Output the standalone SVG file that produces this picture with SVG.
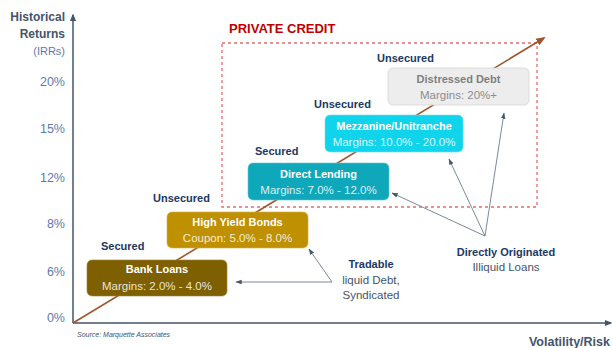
<svg xmlns="http://www.w3.org/2000/svg" width="613" height="348" viewBox="0 0 613 348">
  <style>
    text { font-family: "Liberation Sans", Arial, sans-serif; }
    .axis { stroke: #44546A; stroke-width: 1.5; fill: none; }
    .tick { font-size: 12.5px; fill: #5B7BAE; text-anchor: end; }
    .ttl { font-size: 12px; font-weight: bold; fill: #44546A; text-anchor: end; }
    .tag { font-size: 11px; font-weight: bold; fill: #203864; }
    .box-t { font-size: 11px; font-weight: bold; fill: #FFFFFF; text-anchor: middle; }
    .box-s { font-size: 11.5px; fill: #FFFFFF; fill-opacity: 0.85; text-anchor: middle; }
    .note-b { font-size: 11px; font-weight: bold; fill: #203864; text-anchor: middle; }
    .note { font-size: 11.5px; fill: #44546A; text-anchor: middle; }
    .ptr { stroke: #6B7A93; stroke-width: 0.9; fill: none; marker-end: url(#ptrHead); }
    .trend { stroke: #A0562A; stroke-width: 1.6; fill: none; marker-end: url(#trendHead); }
  </style>
  <defs>
    <marker id="axisHead" viewBox="0 0 10 10" refX="8" refY="5" markerWidth="5" markerHeight="5" orient="auto">
      <path d="M0,1 L10,5 L0,9 Z" fill="#44546A"/>
    </marker>
    <marker id="trendHead" viewBox="0 0 10 10" refX="8" refY="5" markerWidth="6" markerHeight="6" orient="auto">
      <path d="M0,1 L10,5 L0,9 Z" fill="#A0562A"/>
    </marker>
    <marker id="ptrHead" viewBox="0 0 10 10" refX="9" refY="5" markerWidth="7" markerHeight="7" orient="auto">
      <path d="M0,1.5 L10,5 L0,8.5 Z" fill="#44546A"/>
    </marker>
  </defs>

  <rect width="613" height="348" fill="#FFFFFF"/>

  <!-- axes -->
  <g id="axes">
    <line class="axis" x1="73" y1="323" x2="73" y2="15" marker-end="url(#axisHead)"/>
    <line class="axis" x1="73" y1="323" x2="611" y2="323" marker-end="url(#axisHead)"/>
    <text class="ttl" x="65" y="21">Historical</text>
    <text class="ttl" x="65" y="38">Returns</text>
    <text class="tick" x="65" y="55" style="font-size:11px">(IRRs)</text>
    <text class="tick" x="65" y="86">20%</text>
    <text class="tick" x="65" y="133">15%</text>
    <text class="tick" x="65" y="182">12%</text>
    <text class="tick" x="65" y="228">8%</text>
    <text class="tick" x="65" y="276">6%</text>
    <text class="tick" x="65" y="322">0%</text>
    <text x="610" y="346" text-anchor="end" style="font-size:12.5px;font-weight:bold;fill:#44546A">Volatility/Risk</text>
    <text x="77" y="337" style="font-size:7px;font-style:italic;fill:#44546A">Source: Marquette Associates</text>
  </g>

  <!-- private credit region -->
  <g id="private-credit">
    <rect x="222" y="43" width="315" height="164" fill="none" stroke="#E46C6C" stroke-width="1.3" stroke-dasharray="3,3"/>
    <text x="229" y="33" style="font-size:13px;font-weight:bold;fill:#C00000">PRIVATE CREDIT</text>
  </g>

  <!-- connectors -->
  <g id="connectors">
    <line class="trend" x1="73" y1="323" x2="544" y2="38"/>
    <line class="ptr" x1="332" y1="282" x2="236" y2="282"/>
    <line class="ptr" x1="332" y1="282" x2="309" y2="249"/>
    <line class="ptr" x1="485" y1="236" x2="392" y2="193"/>
    <line class="ptr" x1="485" y1="236" x2="449" y2="159"/>
    <line class="ptr" x1="485" y1="236" x2="504" y2="113"/>
  </g>

  <!-- nodes -->
  <g id="bank-loans">
    <text class="tag" x="101" y="250">Secured</text>
    <rect x="87" y="260" width="140" height="36" rx="5" fill="#7F6000" stroke="#9A8040" stroke-width="0.6"/>
    <text class="box-t" x="157" y="273">Bank Loans</text>
    <text class="box-s" x="157" y="290">Margins: 2.0% - 4.0%</text>
  </g>

  <g id="high-yield-bonds">
    <text class="tag" x="153" y="202">Unsecured</text>
    <rect x="167" y="212" width="141" height="36" rx="5" fill="#BF9000" stroke="#D2AE50" stroke-width="0.6"/>
    <text class="box-t" x="237.5" y="226">High Yield Bonds</text>
    <text class="box-s" x="237.5" y="242">Coupon: 5.0% - 8.0%</text>
  </g>

  <g id="direct-lending">
    <text class="tag" x="255" y="155">Secured</text>
    <rect x="248" y="163" width="141" height="37" rx="5" fill="#0FA8BA" stroke="#5CC6D3" stroke-width="0.6"/>
    <text class="box-t" x="318.5" y="178">Direct Lending</text>
    <text class="box-s" x="318.5" y="194">Margins: 7.0% - 12.0%</text>
  </g>

  <g id="mezzanine">
    <text class="tag" x="314" y="108">Unsecured</text>
    <rect x="325" y="115" width="138" height="37" rx="5" fill="#10D4EC" stroke="#6BE3F2" stroke-width="0.6"/>
    <text class="box-t" x="394" y="130">Mezzanine/Unitranche</text>
    <text class="box-s" x="394" y="146">Margins: 10.0% - 20.0%</text>
  </g>

  <g id="distressed-debt">
    <text class="tag" x="377" y="62">Unsecured</text>
    <rect x="388" y="68" width="141" height="37" rx="5" fill="#EDEDED" stroke="#D6D6D6" stroke-width="0.8"/>
    <text class="box-t" x="458.5" y="83" style="fill:#7F7F7F">Distressed Debt</text>
    <text class="box-s" x="458.5" y="99" style="fill:#8C8C8C;fill-opacity:1">Margins: 20%+</text>
  </g>

  <g id="tradable">
    <text class="note-b" x="371" y="268">Tradable</text>
    <text class="note" x="371" y="284">liquid Debt,</text>
    <text class="note" x="371" y="299">Syndicated</text>
  </g>

  <g id="directly-originated">
    <text class="note-b" x="506" y="256">Directly Originated</text>
    <text class="note" x="506" y="271">Illiquid Loans</text>
  </g>
</svg>
